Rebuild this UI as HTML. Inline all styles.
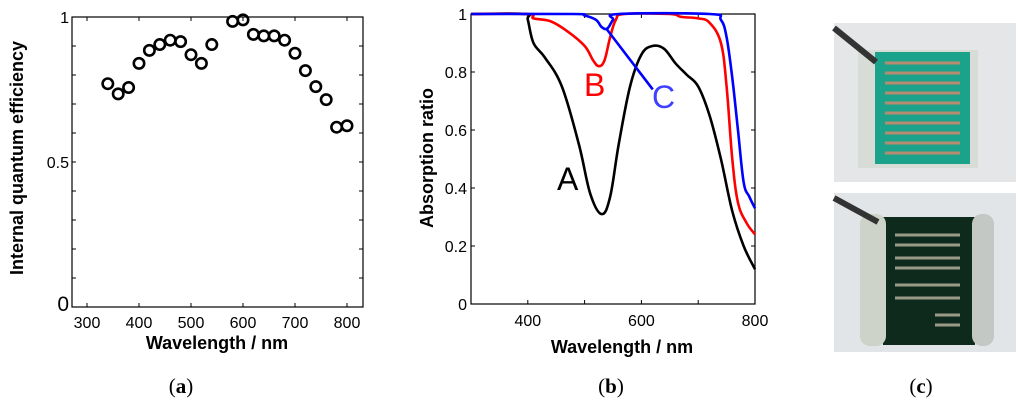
<!DOCTYPE html>
<html><head><meta charset="utf-8"><style>
body{margin:0;background:#fff;width:1024px;height:412px;overflow:hidden}
svg{display:block;font-family:"Liberation Sans",Arial,sans-serif}
</style></head><body>
<svg id="s" width="1024" height="412" viewBox="0 0 1024 412">
 <g id="ga"></g>
 <g id="gb"></g>
 <g>
  <rect x="834" y="23" width="182" height="159" fill="#e4e6e8"/>
  <rect x="858" y="50" width="120" height="118" fill="#d8dcd6"/>
  <rect x="875" y="52" width="95" height="112" fill="#1aa38a"/>
  <g stroke="#b88a70" stroke-width="3">
   <line x1="885" y1="63" x2="960" y2="63"/><line x1="885" y1="73" x2="960" y2="73"/><line x1="885" y1="83" x2="960" y2="83"/>
   <line x1="885" y1="93" x2="960" y2="93"/><line x1="885" y1="103" x2="960" y2="103"/><line x1="885" y1="113" x2="960" y2="113"/>
   <line x1="885" y1="123" x2="960" y2="123"/><line x1="885" y1="133" x2="960" y2="133"/><line x1="885" y1="143" x2="960" y2="143"/><line x1="885" y1="153" x2="960" y2="153"/>
  </g>
  <line x1="834" y1="28" x2="876" y2="62" stroke="#333" stroke-width="6"/>
 </g>
 <g>
  <rect x="834" y="193" width="182" height="159" fill="#e2e5e8"/>
  <rect x="883" y="217" width="92" height="128" fill="#0e2a1c"/>
  <rect x="860" y="214" width="26" height="132" rx="10" fill="#cdd3c8"/>
  <rect x="972" y="214" width="22" height="132" rx="10" fill="#c4c8c4"/>
  <g stroke="#9a9a88" stroke-width="3">
   <line x1="895" y1="235" x2="960" y2="235"/><line x1="895" y1="245" x2="960" y2="245"/><line x1="895" y1="258" x2="960" y2="258"/>
   <line x1="895" y1="268" x2="960" y2="268"/><line x1="895" y1="285" x2="960" y2="285"/><line x1="895" y1="298" x2="960" y2="298"/><line x1="935" y1="315" x2="960" y2="315"/><line x1="935" y1="325" x2="960" y2="325"/>
  </g>
  <line x1="834" y1="198" x2="878" y2="222" stroke="#333" stroke-width="6"/>
 </g>
 <text x="181" y="393" text-anchor="middle" font-family="Liberation Serif,serif" font-size="21">(<tspan font-weight="bold">a</tspan>)</text>
 <text x="611" y="393" text-anchor="middle" font-family="Liberation Serif,serif" font-size="21">(<tspan font-weight="bold">b</tspan>)</text>
 <text x="921" y="393" text-anchor="middle" font-family="Liberation Serif,serif" font-size="21">(<tspan font-weight="bold">c</tspan>)</text>
</svg>
<script>
const NS="http://www.w3.org/2000/svg";
function mk(p,t,a){const e=document.createElementNS(NS,t);for(const k in a)e.setAttribute(k,a[k]);p.appendChild(e);return e;}
// Chart A data
const iqeWl=[340,360,380,400,420,440,460,480,500,520,540,580,600,620,640,660,680,700,720,740,760,780,800];
const iqeVal=[0.77,0.735,0.757,0.84,0.885,0.905,0.92,0.915,0.87,0.84,0.905,0.985,0.99,0.94,0.935,0.935,0.92,0.875,0.815,0.76,0.715,0.62,0.625];
const aXTicks=[300,400,500,600,700,800];
const aYLabels=["0","0.5","1"];
// Chart B data
const wlA=[300,395,400,410,430,460,490,510,530,545,560,580,600,620,640,660,680,700,720,740,760,780,800];
const absA=[1,1,0.98,0.9,0.85,0.75,0.55,0.38,0.31,0.37,0.55,0.75,0.86,0.89,0.88,0.83,0.79,0.75,0.65,0.5,0.32,0.2,0.12];
const wlB=[300,400,410,440,470,500,515,525,535,545,555,570,650,670,700,720,740,750,760,770,785,800];
const absB=[1,1,0.985,0.975,0.94,0.89,0.84,0.82,0.84,0.92,0.98,1,1,0.99,0.985,0.97,0.9,0.75,0.5,0.35,0.28,0.24];
const wlC=[300,480,500,520,530,540,550,560,720,740,750,760,770,780,790,800];
const absC=[1,1,0.995,0.98,0.955,0.95,0.98,1,1,0.98,0.92,0.78,0.6,0.42,0.37,0.33];
const bXTicks=[400,600,800];
const bYTicks=[0,0.2,0.4,0.6,0.8,1];

function smooth(pts){
 let d='M'+pts[0][0]+','+pts[0][1];
 for(let i=0;i<pts.length-1;i++){
  const p0=pts[Math.max(0,i-1)],p1=pts[i],p2=pts[i+1],p3=pts[Math.min(pts.length-1,i+2)];
  const t=0.18;
  const c1=[p1[0]+(p2[0]-p0[0])*t,p1[1]+(p2[1]-p0[1])*t];
  const c2=[p2[0]-(p3[0]-p1[0])*t,p2[1]-(p3[1]-p1[1])*t];
  d+=' C'+c1[0]+','+c1[1]+' '+c2[0]+','+c2[1]+' '+p2[0]+','+p2[1];
 }
 return d;
}

// Chart A
(function(){
 const g=document.getElementById('ga');
 const L=72,R=363,T=17,B=307;
 const x=v=>87+(v-300)*(347-87)/500, y=v=>B-v*(B-T);
 const f=mk(g,'rect',{x:L,y:T,width:R-L,height:B-T,fill:'none',stroke:'#000','stroke-width':1.2});
 
 aXTicks.forEach(t=>{mk(g,'line',{x1:x(t),x2:x(t),y1:B,y2:B-4,stroke:'#000'});mk(g,'line',{x1:x(t),x2:x(t),y1:T,y2:T+4,stroke:'#000'});
  const tx=mk(g,'text',{x:x(t),y:B+21,'text-anchor':'middle','font-size':16});tx.textContent=t;
  });
 for(let i=0;i<=10;i++){const v=i/10;mk(g,'line',{x1:L,x2:L+4,y1:y(v),y2:y(v),stroke:'#000'});mk(g,'line',{x1:R,x2:R-4,y1:y(v),y2:y(v),stroke:'#000'});}
 aYLabels.forEach(s=>{const v=parseFloat(s);const tx=mk(g,'text',{x:L-3,y:y(v)+(v==0?4:6),'text-anchor':'end','font-size':v==0?21:16});tx.textContent=s;
  });
 iqeWl.forEach((w,i)=>{const c=mk(g,'circle',{cx:x(w),cy:y(iqeVal[i]),r:5.2,fill:'none',stroke:'#000','stroke-width':2.6});
  });
 const xt=mk(g,'text',{x:217,y:349,'text-anchor':'middle','font-size':18,'font-weight':'bold'});xt.textContent='Wavelength / nm';
 
 const yt=mk(g,'text',{x:0,y:0,'text-anchor':'middle','font-size':18,'font-weight':'bold',transform:'translate(23,158) rotate(-90)'});yt.textContent='Internal quantum efficiency';
 
})();

// Chart B
(function(){
 const g=document.getElementById('gb');
 const L=471,R=755,T=14,B=304;
 const x=v=>L+(v-300)*(R-L)/500, y=v=>B-v*(B-T);
 const f=mk(g,'rect',{x:L,y:T,width:R-L,height:B-T,fill:'none',stroke:'#000','stroke-width':1.2});
 
 for(let t=300;t<=800;t+=100){mk(g,'line',{x1:x(t),x2:x(t),y1:B,y2:B-4,stroke:'#000'});mk(g,'line',{x1:x(t),x2:x(t),y1:T,y2:T+4,stroke:'#000'});}
 bXTicks.forEach(t=>{const tx=mk(g,'text',{x:x(t),y:B+22,'text-anchor':'middle','font-size':16});tx.textContent=t;
  });
 bYTicks.forEach(v=>{mk(g,'line',{x1:L,x2:L+4,y1:y(v),y2:y(v),stroke:'#000'});mk(g,'line',{x1:R,x2:R-4,y1:y(v),y2:y(v),stroke:'#000'});
  const tx=mk(g,'text',{x:L-4,y:y(v)+6,'text-anchor':'end','font-size':16});tx.textContent=String(v);
  });
 function line(wl,ab,col,name){const p=mk(g,'path',{d:smooth(wl.map((w,i)=>[x(w),y(ab[i])])),fill:'none',stroke:col,'stroke-width':2.6,'stroke-linejoin':'round'});
  }
 line(wlA,absA,'#000','series-a-line');line(wlB,absB,'#f00','series-b-line');line(wlC,absC,'#00f','series-c-line');
 const ar=mk(g,'line',{x1:x(620),y1:y(0.74),x2:x(538),y2:y(0.95),stroke:'#00f','stroke-width':2.6});
 
 const lab=(t,xx,yy,c,n)=>{const e=mk(g,'text',{x:xx,y:yy,'font-size':32,fill:c});e.textContent=t;};
 lab('A',557,190,'#000','label-A');lab('B',584,96,'#f00','label-B');lab('C',652,108,'#4040ff','label-C');
 const xt=mk(g,'text',{x:622,y:353,'text-anchor':'middle','font-size':18,'font-weight':'bold'});xt.textContent='Wavelength / nm';
 
 const yt=mk(g,'text',{x:0,y:0,'text-anchor':'middle','font-size':18,'font-weight':'bold',transform:'translate(433,158) rotate(-90)'});yt.textContent='Absorption ratio';
 
})();
</script>
</body></html>
